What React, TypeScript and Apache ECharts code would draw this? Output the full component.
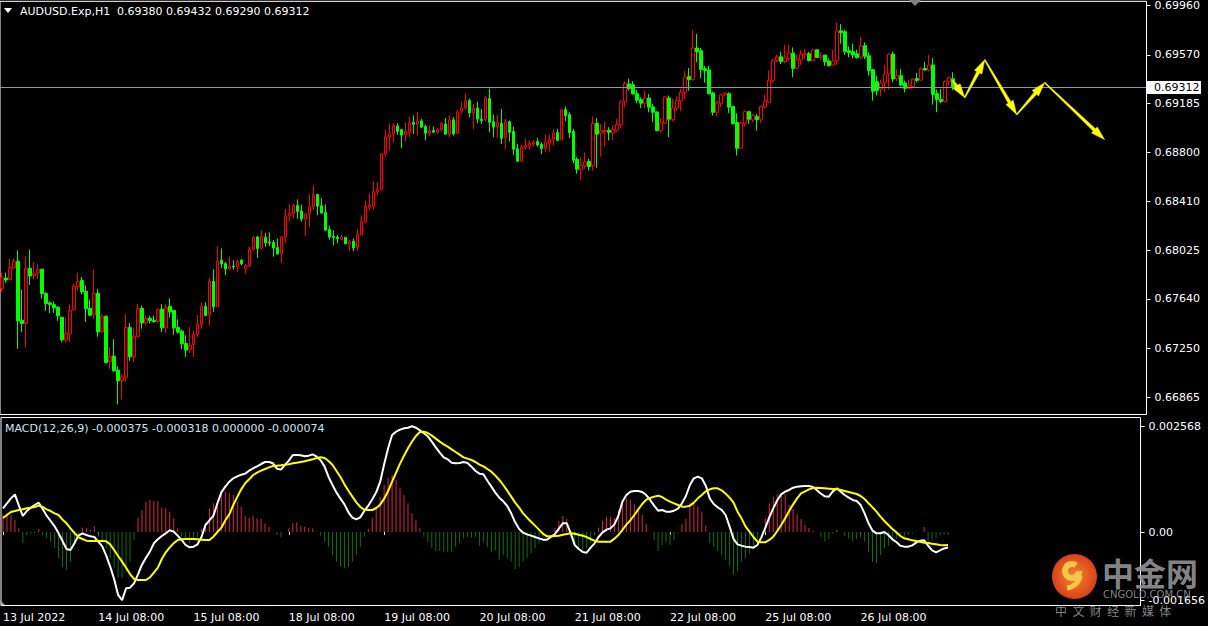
import React, { useEffect, useRef } from "react";
import * as echarts from "echarts";

// ---------- data ----------
const SYMBOL = "AUDUSD.Exp,H1";
const HEADER_VALUES = "0.69380 0.69432 0.69290 0.69312";
const MACD_TITLE = "MACD(12,26,9) -0.000375 -0.000318 0.000000 -0.000074";
const LAST_PRICE = 0.69312;

// prices in points (1e-5)
const opens = [
67722,67806,67793,67885,67938,67472,67446,67883,67825,67846,
67875,67683,67609,67596,67575,67496,67317,67364,67554,67735,
67788,67701,67567,67514,67685,67380,67504,67144,67188,67078,
66994,67020,67414,67183,67343,67567,67451,67488,67472,67462,
67559,67412,67583,67551,67414,67386,67288,67238,67280,67357,
67436,67583,67514,67780,67578,67946,67919,67877,67898,67891,
67946,67877,67901,68033,68130,68043,68127,68090,68088,68046,
67998,68132,68298,68314,68380,68335,68272,68314,68369,68466,
68377,68324,68190,68135,68130,68111,68127,68075,68096,68046,
68146,68248,68364,68374,68488,68503,68787,68921,68945,69008,
68979,68937,68958,69035,69021,69048,69003,68950,68971,68958,
68977,69024,68940,69056,68950,69124,69150,69208,69111,69150,
69061,69056,69224,69042,68998,69027,68914,69042,68964,68827,
68729,68840,68848,68864,68885,68861,68832,68869,68903,68956,
68898,69137,69098,68964,68743,68666,68693,68727,68693,69027,
68950,68964,68974,68953,68974,69016,69198,69340,69334,69263,
69216,69187,69229,69158,69119,68971,69029,69229,69058,69148,
69206,69274,69398,69374,69624,69603,69461,69450,69269,69116,
69187,69258,69263,69161,69035,68832,69029,69121,69056,69082,
69061,69161,69195,69366,69524,69555,69518,69542,69584,69463,
69529,69571,69579,69526,69610,69550,69568,69521,69490,69524,
69760,69753,69603,69595,69579,69553,69642,69563,69453,69358,
69300,69353,69418,69576,69379,69405,69347,69305,69318,69382,
69371,69463,69447,69490,69263,69219,69200,69358,69380];

const closes = [
67809,67790,67888,67935,67467,67446,67880,67822,67843,67872,
67683,67604,67596,67570,67507,67317,67367,67551,67741,67777,
67696,67562,67512,67685,67380,67504,67136,67188,67073,66994,
67025,67414,67183,67346,67564,67451,67488,67470,67462,67556,
67412,67572,67538,67412,67378,67286,67236,67272,67359,67441,
67583,67509,67780,67578,67938,67917,67877,67898,67893,67938,
67917,67904,68033,68127,68040,68135,68083,68083,68043,67996,
68132,68298,68317,68380,68332,68272,68314,68369,68466,68374,
68319,68185,68130,68125,68117,68127,68075,68093,68043,68151,
68251,68372,68380,68490,68506,68787,68924,68945,69011,68966,
68935,68964,69032,69021,69048,68998,68950,68971,68958,68979,
69024,68943,69056,68945,69119,69150,69208,69111,69150,69061,
69050,69229,69037,68998,69035,68911,69042,68958,68824,68729,
68843,68853,68869,68879,68858,68829,68882,68906,68953,68893,
69135,69090,68956,68737,68666,68695,68724,68687,69027,68943,
68971,68974,68958,68979,69019,69198,69342,69303,69261,69211,
69187,69229,69156,69116,68971,69032,69237,69061,69150,69208,
69274,69395,69374,69624,69595,69455,69447,69263,69116,69190,
69253,69269,69156,69027,68832,69032,69121,69061,69090,69058,
69163,69200,69369,69529,69553,69516,69545,69584,69463,69529,
69576,69579,69524,69608,69550,69563,69516,69484,69521,69760,
69745,69597,69587,69568,69547,69642,69558,69445,69282,69287,
69347,69418,69576,69379,69405,69332,69305,69326,69379,69368,
69461,69450,69490,69258,69216,69200,69358,69390,69312];

const highs = [
67848,67848,67959,67959,68025,67714,67977,68030,67933,67919,
67875,67696,67622,67622,67583,67496,67493,67596,67762,67848,
67814,67748,67635,67875,67720,67520,67509,67259,67322,67107,
67046,67520,67451,67414,67601,67588,67509,67509,67509,67562,
67599,67599,67646,67551,67480,67399,67354,67417,67393,67512,
67614,67614,67806,67875,68056,68040,67933,67977,67946,67951,
67956,67919,68051,68138,68138,68182,68161,68167,68106,68117,
68138,68353,68388,68393,68427,68385,68319,68466,68537,68472,
68435,68388,68219,68182,68146,68146,68127,68109,68119,68196,
68301,68419,68472,68569,68564,68793,68979,69029,69029,69029,
68985,69037,69082,69090,69119,69063,69019,69016,69003,68992,
69040,69071,69090,69077,69135,69200,69263,69224,69182,69200,
69142,69242,69303,69098,69098,69142,69063,69050,69003,68866,
68861,68906,68893,68898,68914,68879,68940,68940,68985,68985,
69142,69161,69116,68985,68761,68761,68798,68748,69082,69071,
69024,69042,68998,69011,69063,69208,69361,69382,69361,69292,
69234,69287,69261,69182,69124,69069,69242,69248,69221,69240,
69300,69440,69466,69766,69734,69624,69482,69484,69279,69208,
69261,69269,69274,69166,69108,69045,69129,69121,69103,69103,
69169,69255,69445,69537,69571,69592,69650,69650,69629,69571,
69610,69616,69595,69616,69610,69589,69568,69542,69610,69826,
69813,69768,69637,69658,69610,69713,69668,69589,69453,69405,
69374,69484,69584,69595,69458,69458,69366,69371,69387,69426,
69471,69516,69568,69545,69295,69300,69366,69400,69432];

const lows = [
67696,67767,67793,67877,67246,67378,67257,67751,67793,67801,
67643,67546,67530,67530,67467,67301,67296,67301,67551,67709,
67677,67459,67504,67483,67341,67372,67136,67088,67065,66807,
66846,66986,67151,67144,67336,67404,67433,67446,67451,67451,
67378,67372,67493,67357,67367,67244,67183,67215,67183,67341,
67404,67504,67428,67538,67578,67883,67830,67867,67872,67851,
67906,67838,67893,68025,67964,68035,68051,68059,67975,67990,
67925,68085,68253,68277,68274,68251,68138,68209,68348,68303,
68314,68177,68109,68064,68082,68106,68075,68019,68019,68019,
68140,68240,68346,68346,68459,68503,68766,68814,68877,68937,
68832,68885,68919,68945,68932,68990,68893,68927,68958,68945,
68966,68943,68919,68932,68945,69098,69137,69077,68982,69029,
69024,69042,68958,68919,68914,68866,68827,68885,68779,68729,
68724,68819,68819,68845,68845,68785,68803,68806,68853,68887,
68893,69045,68911,68714,68630,68582,68669,68656,68656,68677,
68766,68850,68893,68898,68961,68990,69156,69287,69255,69187,
69150,69150,69116,69037,68966,68956,69021,68919,69042,69129,
69124,69221,69287,69366,69511,69387,69350,69255,69090,69082,
69158,69242,69111,69019,68774,68827,69003,69024,69037,68971,
69032,69150,69190,69350,69511,69497,69503,69524,69392,69458,
69490,69542,69518,69524,69545,69529,69484,69479,69484,69492,
69658,69571,69550,69542,69542,69537,69537,69405,69208,69248,
69242,69279,69295,69353,69361,69321,69274,69300,69311,69353,
69366,69445,69437,69176,69116,69190,69195,69326,69290];

// MACD indicator values in 1e-6 units
const macdLine = [
575,697,818,915,640,389,510,591,656,713,
559,397,267,138,-32,-219,-413,-437,-275,-89,
-32,-73,-105,-122,-235,-348,-575,-842,-1150,-1530,
-1656,-1369,-1353,-1247,-1029,-794,-624,-478,-275,-178,
-97,-32,41,8,-89,-194,-316,-373,-356,-300,
-122,170,284,397,697,964,1102,1223,1304,1353,
1393,1418,1490,1547,1596,1652,1701,1701,1669,1539,
1515,1628,1733,1871,1871,1863,1839,1855,1887,1831,
1742,1588,1337,1142,956,810,672,478,348,308,
356,510,640,794,964,1223,1644,2033,2357,2438,
2487,2519,2535,2568,2535,2471,2398,2325,2195,2057,
1928,1814,1766,1685,1669,1677,1701,1677,1588,1482,
1418,1401,1247,1102,956,834,745,632,454,235,
73,-16,-57,-89,-122,-154,-186,-186,-122,-49,
81,211,211,-32,-316,-413,-486,-502,-381,-275,
-122,-8,57,89,186,397,737,899,980,996,
996,972,899,778,640,518,535,494,494,518,
567,697,875,1142,1304,1345,1304,1126,818,680,
599,535,413,130,-170,-300,-332,-356,-365,-381,
-316,-130,105,356,575,770,915,980,1021,1077,
1102,1110,1118,1118,1094,1013,932,867,859,988,
1061,980,899,834,778,753,656,454,211,32,
-32,-32,0,-73,-178,-243,-332,-356,-356,-324,
-259,-211,-203,-332,-446,-494,-446,-400,-375];

const signalLine = [
340,413,486,510,535,551,575,591,608,640,
608,551,510,454,413,300,211,89,-24,-122,
-170,-211,-219,-219,-219,-219,-227,-300,-437,-583,
-721,-867,-1021,-1142,-1166,-1166,-1166,-1102,-988,-867,
-656,-494,-373,-275,-194,-178,-170,-170,-170,-178,
-186,-194,-194,-113,0,105,284,429,656,851,
1037,1183,1280,1385,1442,1490,1531,1571,1604,1612,
1620,1636,1644,1669,1685,1701,1717,1742,1766,1798,
1814,1798,1725,1628,1482,1337,1158,1004,859,721,
608,543,535,535,583,664,810,996,1223,1442,
1661,1855,2033,2195,2333,2430,2438,2406,2341,2268,
2195,2130,2074,2009,1944,1879,1814,1782,1750,1701,
1636,1596,1531,1466,1369,1264,1142,1004,859,713,
591,454,348,251,154,57,-41,-105,-105,-97,
-89,-65,-49,-32,-41,-65,-89,-122,-170,-211,
-235,-235,-235,-235,-162,-73,49,178,284,413,
551,680,786,826,859,883,851,786,737,697,
656,616,616,640,713,818,899,988,1037,1061,
1061,1013,932,834,713,494,332,138,8,-122,
-235,-251,-251,-194,-113,24,170,332,510,672,
818,940,988,1037,1069,1077,1069,1061,1053,1045,
1045,1021,996,972,948,923,875,802,697,599,
494,373,267,170,73,-8,-97,-154,-178,-203,
-219,-235,-259,-267,-284,-300,-316,-324,-318];

const histogram = [
413,454,413,292,89,-275,-73,-41,-24,73,
-73,-154,-235,-397,-640,-842,-923,-721,-235,-73,
105,105,49,146,-113,-235,-397,-640,-883,-1110,
-1110,-964,-721,-194,348,535,737,778,753,753,
591,575,494,332,89,-113,-194,-275,-194,-113,
73,211,575,697,778,1021,980,940,899,737,
616,397,348,397,332,316,211,130,8,-73,
-122,0,89,211,235,154,130,89,89,8,
-89,-235,-356,-559,-721,-842,-883,-842,-721,-559,
-356,-113,73,348,559,859,1142,1320,1385,1264,
1077,899,697,454,292,89,-113,-235,-381,-462,
-462,-494,-494,-478,-356,-275,-154,-113,-138,-113,
-332,-235,-356,-494,-437,-680,-559,-640,-721,-899,
-842,-721,-624,-518,-397,-275,-113,-8,-8,89,
267,389,316,-113,-316,-437,-478,-397,-275,-73,
105,267,373,373,332,535,697,818,778,672,
575,413,186,-8,-194,-462,-316,-235,-316,-194,
-32,186,316,697,697,616,478,154,-275,-356,
-462,-559,-680,-818,-1029,-948,-721,-640,-518,-356,
-194,-8,332,697,859,915,940,915,656,559,
429,316,170,105,24,-8,-113,-235,-170,-32,
49,-8,-89,-154,-219,-170,-138,-235,-478,-721,
-761,-559,-397,-332,-219,-170,-113,-113,-73,-32,
8,8,122,-235,-194,-138,-89,-73,-74];

const priceTicks = [0.6996, 0.6957, 0.69185, 0.688, 0.6841, 0.68025, 0.6764, 0.6725, 0.66865];
const macdTicks = [0.002568, 0, -0.001656];
const timeTickIdx = [0, 24, 48, 72, 96, 120, 144, 168, 192, 216];
const timeTickLabels = [
  "13 Jul 2022", "14 Jul 08:00", "15 Jul 08:00", "18 Jul 08:00", "19 Jul 08:00",
  "20 Jul 08:00", "21 Jul 08:00", "22 Jul 08:00", "25 Jul 08:00", "26 Jul 08:00",
];
// forecast arrows: [bar index, price]
const arrowPath = [
  [238, 0.69366], [241, 0.69232], [246, 0.69531], [254, 0.69098], [261, 0.6935], [276, 0.689],
];
const TOTAL_SLOTS = 287;

const FONT = "DejaVu Sans";

function arrowPolygon(p0: number[], p1: number[]) {
  const dx = p1[0] - p0[0];
  const dy = p1[1] - p0[1];
  const L = Math.hypot(dx, dy) || 1;
  const ux = dx / L, uy = dy / L;
  const nx = -uy, ny = ux;
  const head = Math.min(14, L * 0.7);
  const hw = 4.2;
  const bx = p1[0] - ux * head, by = p1[1] - uy * head;
  const s0 = 0.5, s1 = 1.6;
  return [
    [p0[0] + nx * s0, p0[1] + ny * s0],
    [bx + nx * s1, by + ny * s1],
    [bx + nx * hw, by + ny * hw],
    [p1[0], p1[1]],
    [bx - nx * hw, by - ny * hw],
    [bx - nx * s1, by - ny * s1],
    [p0[0] - nx * s0, p0[1] - ny * s0],
  ];
}

export default function App() {
  const ref = useRef<HTMLDivElement>(null);
  useEffect(() => {
    document.body.style.margin = "0";
    document.body.style.background = "#000";
    if (!ref.current) return;
    const chart = echarts.init(ref.current, null, { renderer: "svg" });

    const cats = Array.from({ length: TOTAL_SLOTS }, (_, i) => String(i));
    const candleData = opens.map((o, i) => {
      const c = closes[i];
      const h = Math.max(highs[i], o, c);
      const l = Math.min(lows[i], o, c);
      return [o / 1e5, c / 1e5, l / 1e5, h / 1e5];
    });
    const RED = "#ff0000";
    const GREEN = "#00ff00";

    const baseGraphic: any[] = [
      { type: "polygon", shape: { points: [[4, 8], [12, 8], [8, 13]] }, style: { fill: "#ffffff" }, z: 10 },
      { type: "text", x: 20, y: 11, style: { text: SYMBOL, fill: "#ffffff", font: `11px "${FONT}"`, textVerticalAlign: "middle" }, z: 10 },
      { type: "text", x: 117, y: 11, style: { text: HEADER_VALUES, fill: "#ffffff", font: `11px "${FONT}"`, textVerticalAlign: "middle" }, z: 10 },
      { type: "polygon", shape: { points: [[909, 0], [921, 0], [915, 6]] }, style: { fill: "#808080" }, z: 10 },
      { type: "text", x: 5, y: 428, style: { text: MACD_TITLE, fill: "#cfe4f2", font: `11px "${FONT}"`, textVerticalAlign: "middle" }, z: 10 },
      { type: "polygon", shape: { points: [[0, 600], [0, 605], [5, 605]] }, style: { fill: "#9aa0a8" }, z: 10 },
      // watermark
      {
        type: "circle", shape: { cx: 1074.5, cy: 576.5, r: 22.5 }, z: 20,
        style: {
          fill: {
            type: "radial", x: 0.5, y: 0.5, r: 0.5,
            colorStops: [{ offset: 0, color: "#f08a2a" }, { offset: 1, color: "#d9401a" }],
          },
        },
      },
      { type: "arc", shape: { cx: 1072, cy: 571, r: 7, startAngle: 0, endAngle: Math.PI * 1.7 }, style: { stroke: "#f7c54a", lineWidth: 6, fill: "none" }, z: 21 },
      { type: "arc", shape: { cx: 1066, cy: 574, r: 14, startAngle: 0.1, endAngle: 1.5 }, style: { stroke: "#f7c54a", lineWidth: 5, fill: "none" }, z: 21 },
      { type: "text", x: 1102, y: 572, style: { text: "中金网", fill: "rgba(150,150,150,0.9)", font: `bold 32px "Noto Sans CJK SC"`, textVerticalAlign: "middle" }, z: 20 },
      { type: "text", x: 1103, y: 594, style: { text: "CNGOLD.COM.CN", fill: "rgba(150,150,150,0.9)", font: `10px "DejaVu Sans"`, textVerticalAlign: "middle" }, z: 20 },
      { type: "text", x: 1055, y: 610, style: { text: "中  文  财  经  新  媒  体", fill: "rgba(150,150,150,0.9)", font: `12px "Noto Sans CJK SC"`, textVerticalAlign: "middle" }, z: 20 },
    ];

    const option: any = {
      animation: false,
      backgroundColor: "#000",
      grid: [
        { left: -0.5, top: 0.5, width: 1147, height: 414, show: true, borderColor: "#ffffff", borderWidth: 1, containLabel: false },
        { left: -0.5, top: 417.5, width: 1147, height: 188, show: true, borderColor: "#ffffff", borderWidth: 1, containLabel: false },
      ],
      xAxis: [
        {
          type: "category", gridIndex: 0, data: cats, boundaryGap: true,
          axisLine: { show: false }, axisTick: { show: false }, axisLabel: { show: false }, splitLine: { show: false },
        },
        {
          type: "category", gridIndex: 1, data: cats, boundaryGap: true, position: "bottom",
          axisLine: { show: false },
          axisTick: {
            show: true, alignWithLabel: true, length: 3, lineStyle: { color: "#fff" },
            interval: (idx: number) => timeTickIdx.includes(idx),
          },
          axisLabel: {
            show: true, color: "#ffffff", fontFamily: FONT, fontSize: 11, align: "left", margin: 6,
            interval: (idx: number) => timeTickIdx.includes(idx),
            formatter: (_v: string, idx: number) => {
              const p = timeTickIdx.indexOf(idx);
              return p >= 0 ? timeTickLabels[p] : "";
            },
          },
          splitLine: { show: false },
        },
      ],
      yAxis: [
        {
          type: "value", gridIndex: 0, position: "right", min: 0.66727, max: 0.69993,
          axisLine: { show: false },
          axisTick: { show: true, length: 4, customValues: priceTicks, lineStyle: { color: "#fff" } },
          axisLabel: {
            show: true, customValues: priceTicks, color: "#ffffff", fontFamily: FONT, fontSize: 11, margin: 8,
            formatter: (v: number) => v.toFixed(5),
          },
          splitLine: { show: false },
        },
        {
          type: "value", gridIndex: 1, position: "right", min: -0.00178605, max: 0.00278235,
          axisLine: { show: false },
          axisTick: { show: true, length: 4, customValues: macdTicks, lineStyle: { color: "#fff" } },
          axisLabel: {
            show: true, customValues: macdTicks, color: "#ffffff", fontFamily: FONT, fontSize: 11, margin: 8,
            formatter: (v: number) => (Math.abs(v) < 1e-9 ? "0.00" : v.toFixed(6)),
          },
          splitLine: { show: false },
        },
      ],
      series: [
        {
          type: "candlestick", xAxisIndex: 0, yAxisIndex: 0, data: candleData, barWidth: 3,
          itemStyle: { color: "#000000", color0: GREEN, borderColor: RED, borderColor0: GREEN, borderWidth: 1 },
        },
        {
          type: "bar", xAxisIndex: 1, yAxisIndex: 1, barWidth: 1,
          data: histogram.map((v) => ({ value: v / 1e6, itemStyle: { color: v >= 0 ? "#dc2848" : "#107010" } })),
        },
        {
          type: "line", xAxisIndex: 1, yAxisIndex: 1, showSymbol: false, symbol: "none",
          data: macdLine.map((v) => v / 1e6), lineStyle: { color: "#ffffff", width: 2 },
        },
        {
          type: "line", xAxisIndex: 1, yAxisIndex: 1, showSymbol: false, symbol: "none",
          data: signalLine.map((v) => v / 1e6), lineStyle: { color: "#ffff00", width: 2 },
        },
      ],
      graphic: baseGraphic,
    };
    chart.setOption(option);

    // price line + label + forecast arrows, positioned through the chart's own scales
    const yLast = chart.convertToPixel({ yAxisIndex: 0 }, LAST_PRICE) as number;
    const yl = Math.round(yLast) + 0.5;
    const arrowPx = arrowPath.map((p) => chart.convertToPixel({ xAxisIndex: 0, yAxisIndex: 0 }, p) as number[]);
    const extra: any[] = [
      { type: "line", shape: { x1: 0, y1: yl, x2: 1146, y2: yl }, style: { stroke: "#8a9aaa", lineWidth: 1 }, z: 5 },
      { type: "rect", shape: { x: 1147, y: yl - 6.5, width: 54, height: 13 }, style: { fill: "#ffffff" }, z: 11 },
      { type: "text", x: 1154, y: yl, style: { text: LAST_PRICE.toFixed(5), fill: "#000000", font: `11px "${FONT}"`, textVerticalAlign: "middle" }, z: 12 },
    ];
    for (let k = 0; k < arrowPx.length - 1; k++) {
      extra.push({
        type: "polygon", z: 15,
        shape: { points: arrowPolygon(arrowPx[k], arrowPx[k + 1]) },
        style: { fill: "#ffff00", stroke: "#ffff00", lineWidth: 0.5 },
      });
    }
    chart.setOption({ graphic: [...baseGraphic, ...extra] });
    return () => chart.dispose();
  }, []);
  return <div ref={ref} style={{ width: 1208, height: 626 }} />;
}
